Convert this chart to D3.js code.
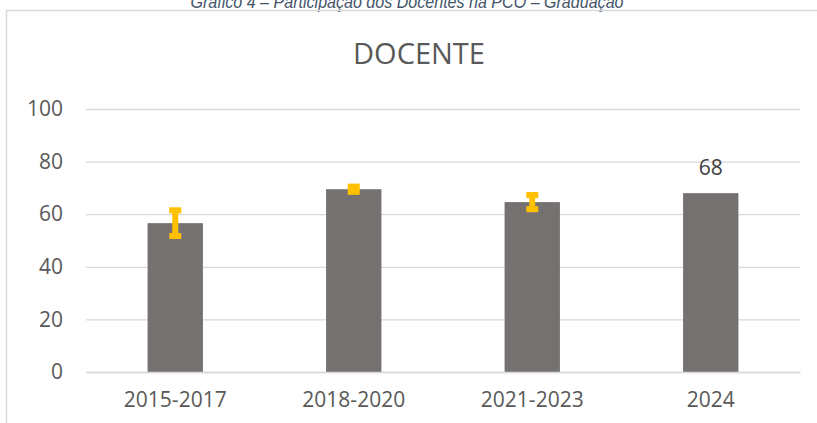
<!DOCTYPE html>
<html>
<head>
<meta charset="utf-8">
<script src="https://cdn.jsdelivr.net/npm/d3@7"></script>
<style>
  html, body { margin: 0; padding: 0; background: #fff; }
  svg { display: block; }
</style>
</head>
<body>
<svg width="817" height="423"></svg>
<script>
// chart values
var categories = ["2015-2017", "2018-2020", "2021-2023", "2024"];
var values = [56.6, 69.5, 64.6, 68];
var errors = [4.9, 1, 2.7, 0];
var labels = ["", "", "", "68"];
var yTicks = [0, 20, 40, 60, 80, 100];

var width = 817, height = 423;
var margin = ({top: 109, right: 17, bottom: 51, left: 86});

var x = d3.scaleBand()
    .domain(categories)
    .range([margin.left, width - margin.right])
    .paddingInner(0.69)
    .paddingOuter(0.345);
var y = d3.scaleLinear()
    .domain([0, 100])
    .range([height - margin.bottom, margin.top]);

(function chart() {
  var svg = d3.select("svg");

  // caption above the chart box (cut off at the top, as in the source page)
  svg.append("text")
      .attr("x", 407)
      .attr("y", 8)
      .attr("text-anchor", "middle")
      .attr("font-family", "Liberation Sans, Arial, sans-serif")
      .attr("font-style", "italic")
      .attr("font-size", 18.5)
      .attr("textLength", 433)
      .attr("lengthAdjust", "spacingAndGlyphs")
      .attr("fill", "#44546a")
      .text("Gráfico 4 – Participação dos Docentes na PCO – Graduação");

  // chart frame
  svg.append("rect")
      .attr("x", 6.5)
      .attr("y", 10.5)
      .attr("width", 900)
      .attr("height", 500)
      .attr("fill", "none")
      .attr("stroke", "#d9d9d9")
      .attr("stroke-width", 1.5);

  svg.append("text")
      .attr("x", 419)
      .attr("y", 64)
      .attr("text-anchor", "middle")
      .attr("font-family", "Open Sans, sans-serif")
      .attr("font-size", 29)
      .attr("fill", "#595959")
      .text("DOCENTE");

  // gridlines + y labels
  var yAxis = g => g
      .attr("transform", `translate(${margin.left},0)`)
      .call(d3.axisLeft(y).tickValues(yTicks)
          .tickSize(-(width - margin.left - margin.right))
          .tickPadding(23))
      .call(g => g.select(".domain").remove())
      .call(g => g.selectAll(".tick line").attr("stroke", "#d9d9d9").attr("stroke-width", 1.3))
      .call(g => g.selectAll(".tick text")
          .attr("font-family", "Open Sans, sans-serif")
          .attr("font-size", 21)
          .attr("fill", "#595959"));
  svg.append("g").call(yAxis);

  svg.append("g")
      .selectAll("rect")
      .data(values)
      .join("rect")
      .attr("x", (d, i) => x(categories[i]))
      .attr("y", d => y(d))
      .attr("width", x.bandwidth())
      .attr("height", d => y(0) - y(d))
      .attr("fill", "#767171");

  // x axis line + labels
  var xAxis = g => g
      .attr("transform", `translate(0,${y(0)})`)
      .call(d3.axisBottom(x).tickSize(0).tickPadding(20))
      .call(g => g.select(".domain").attr("stroke", "#d9d9d9").attr("stroke-width", 1.3))
      .call(g => g.selectAll(".tick text")
          .attr("font-family", "Open Sans, sans-serif")
          .attr("font-size", 21)
          .attr("fill", "#595959"));
  svg.append("g").call(xAxis);

  // error bars
  var eb = svg.append("g")
      .attr("stroke", "#ffc000")
      .attr("stroke-width", 6)
      .selectAll("g")
      .data(values.map((v, i) => ({v, e: errors[i], c: categories[i]})).filter(d => d.e > 0))
      .join("g");
  eb.append("line")
      .attr("x1", d => x(d.c) + x.bandwidth() / 2)
      .attr("x2", d => x(d.c) + x.bandwidth() / 2)
      .attr("y1", d => y(d.v + d.e))
      .attr("y2", d => y(d.v - d.e));
  [1, -1].forEach(s => {
    eb.append("line")
        .attr("x1", d => x(d.c) + x.bandwidth() / 2 - 6)
        .attr("x2", d => x(d.c) + x.bandwidth() / 2 + 6)
        .attr("y1", d => y(d.v + s * d.e))
        .attr("y2", d => y(d.v + s * d.e));
  });

  // data labels
  svg.append("g")
      .selectAll("text")
      .data(values)
      .join("text")
      .attr("x", (d, i) => x(categories[i]) + x.bandwidth() / 2)
      .attr("y", d => y(d) - 18)
      .attr("text-anchor", "middle")
      .attr("font-family", "Open Sans, sans-serif")
      .attr("font-size", 21)
      .attr("fill", "#404040")
      .text((d, i) => labels[i]);

  return svg.node();
})();
</script>
</body>
</html>
